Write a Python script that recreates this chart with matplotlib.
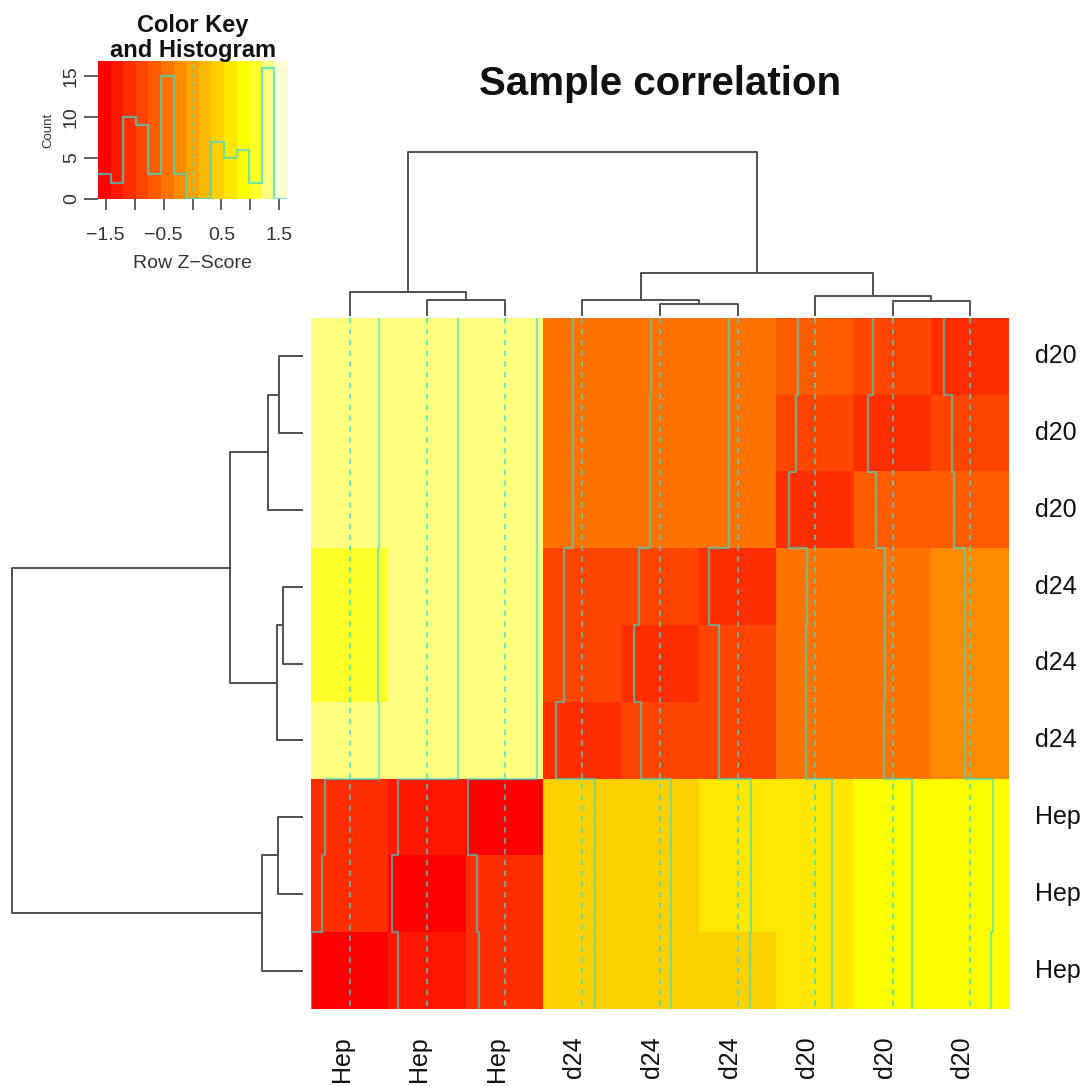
import numpy as np
import matplotlib
matplotlib.use("Agg")
import matplotlib.pyplot as plt
import matplotlib.transforms as mtransforms
from matplotlib.colors import ListedColormap, BoundaryNorm, hsv_to_rgb

plt.rcParams['font.family'] = ['Liberation Sans', 'DejaVu Sans']

# sample labels, rows top to bottom and columns left to right
row_labels = ["d20", "d20", "d20", "d24", "d24", "d24", "Hep", "Hep", "Hep"]
col_labels = ["Hep", "Hep", "Hep", "d24", "d24", "d24", "d20", "d20", "d20"]

# row z-scores of the sample matrix
zscores = np.array([
    [1.21, 1.29, 1.37, -0.40, -0.38, -0.37, -0.70, -0.82, -1.10],
    [1.21, 1.29, 1.37, -0.40, -0.40, -0.37, -0.82, -1.03, -0.77],
    [1.21, 1.29, 1.37, -0.40, -0.40, -0.38, -1.10, -0.69, -0.68],
    [1.18, 1.29, 1.37, -0.78, -0.89, -1.19, -0.34, -0.34, -0.22],
    [1.18, 1.29, 1.37, -0.77, -1.09, -0.77, -0.37, -0.34, -0.24],
    [1.21, 1.29, 1.37, -1.12, -0.78, -0.77, -0.37, -0.36, -0.24],
    [-1.05, -1.25, -1.53, 0.53, 0.47, 0.55, 0.70, 0.83, 0.94],
    [-1.15, -1.48, -1.19, 0.53, 0.47, 0.55, 0.70, 0.83, 0.94],
    [-1.63, -1.23, -1.10, 0.53, 0.47, 0.53, 0.70, 0.83, 0.87],
])

# dendrogram merges: (left, right, height); ids >= 9 refer to earlier merges
col_links = [
    (1, 2, 1.5),
    (0, 9, 2.3),
    (4, 5, 1.1),
    (3, 11, 1.5),
    (7, 8, 1.4),
    (6, 13, 1.9),
    (12, 14, 4.2),
    (10, 15, 16.3),
]
row_links = [
    (0, 1, 2.3),
    (9, 2, 3.4),
    (3, 4, 1.9),
    (11, 5, 2.5),
    (10, 12, 7.2),
    (6, 7, 2.4),
    (14, 8, 4.0),
    (13, 15, 29.0),
]

n_bins = 15
W, H = 1089, 1086
fig = plt.figure(figsize=(W / 100, H / 100), dpi=100)


def box(x0, y0, x1, y1):
    return [x0 / W, 1 - y1 / H, (x1 - x0) / W, (y1 - y0) / H]


def heat_colors(n):
    # same ramp as R's heat.colors()
    j = n // 4
    i = n - j
    cols = [hsv_to_rgb((h, 1, 1)) for h in np.linspace(0, 1 / 6, i)]
    cols += [hsv_to_rgb((1 / 6, s, 1)) for s in np.linspace(1 - 1 / (2 * j), 1 / (2 * j), j)]
    return cols


def dendro_segments(links, n):
    pos = {k: k + 0.5 for k in range(n)}
    hgt = {k: 0.0 for k in range(n)}
    segs = []
    for k, (a, b, h) in enumerate(links):
        segs.append(([pos[a], pos[a], pos[b], pos[b]], [hgt[a], h, h, hgt[b]]))
        pos[n + k] = (pos[a] + pos[b]) / 2
        hgt[n + k] = h
    return segs


lim = np.abs(zscores).max()
breaks = np.linspace(-lim, lim, n_bins + 1)
cmap = ListedColormap(heat_colors(n_bins))
norm = BoundaryNorm(breaks, n_bins)
trace_col = '#2fe0d8'
tree_col = '#505050'

# heatmap
ax = fig.add_axes(box(311, 318, 1009, 1009))
nr, nc = zscores.shape
ax.imshow(zscores, cmap=cmap, norm=norm, extent=(0, nc, nr, 0),
          aspect='auto', interpolation='nearest')
for j in range(nc):
    ax.plot([j + 0.5, j + 0.5], [0, nr], color=trace_col, lw=1.3,
            ls=(0, (3, 3)), alpha=0.75)
    frac = (zscores[:, j] + lim) / (2 * lim)
    xs = np.repeat(j + frac, 2)
    ys = np.repeat(np.arange(nr + 1), 2)[1:-1]
    ax.plot(xs, ys, color=trace_col, lw=1.6, alpha=0.6)
ax.set_xlim(0, nc)
ax.set_ylim(nr, 0)
ax.axis('off')

for i, lab in enumerate(row_labels):
    ax.text(1.037, i + 0.5, lab, transform=ax.get_yaxis_transform(),
            ha='left', va='center', fontsize=18, color='#111111')
shift = mtransforms.ScaledTranslation(-8 / 100, 0, fig.dpi_scale_trans)
for j, lab in enumerate(col_labels):
    ax.text(j + 0.5, -0.04, lab, transform=ax.get_xaxis_transform() + shift,
            ha='center', va='top', rotation=90, fontsize=18, color='#111111')

# column dendrogram
axc = fig.add_axes(box(311, 152, 1009, 315))
for xs, ys in dendro_segments(col_links, nc):
    axc.plot(xs, ys, color=tree_col, lw=1.4, clip_on=False)
axc.set_xlim(0, nc)
axc.set_ylim(0, col_links[-1][2])
axc.axis('off')

# row dendrogram
axr = fig.add_axes(box(12, 318, 302, 1009))
for ys, xs in dendro_segments(row_links, nr):
    axr.plot(xs, ys, color=tree_col, lw=1.4, clip_on=False)
axr.set_xlim(row_links[-1][2], 0)
axr.set_ylim(nr, 0)
axr.axis('off')

# colour key with histogram
counts, _ = np.histogram(zscores.ravel(), bins=breaks)
ytop = counts.max() / 0.95
axk = fig.add_axes(box(98, 61, 287, 199))
axk.imshow(np.arange(n_bins)[None, :], cmap=cmap, extent=(-lim, lim, 0, ytop),
           aspect='auto', interpolation='nearest')
axk.step(breaks, np.append(counts, counts[-1]), where='post',
         color=trace_col, lw=1.6, alpha=0.7)
axk.plot([0, 0], [0, ytop], color=trace_col, lw=1.3, ls=(0, (2, 2.5)), alpha=0.7)
axk.set_xlim(-lim, lim)
axk.set_ylim(0, ytop)
for s in axk.spines.values():
    s.set_visible(False)
xt = np.arange(-1.5, 1.51, 0.5)
axk.set_xticks(xt)
axk.set_xticklabels([f"{v:.1f}".replace('-', '\u2212') if k % 2 == 0 else ''
                     for k, v in enumerate(xt)])
axk.set_yticks([0, 5, 10, 15])
axk.set_yticklabels(['0', '5', '10', '15'], rotation=90, va='center')
axk.tick_params(axis='x', length=8, width=1.2, pad=12, labelsize=14,
                color='#444444', labelcolor='#333333')
axk.tick_params(axis='y', length=10, width=1.2, pad=3, labelsize=14,
                color='#444444', labelcolor='#333333')
axk.set_ylabel('Count', fontsize=9.5, color='#333333', labelpad=6)
axk.set_xlabel('Row Z\u2212Score', fontsize=14, color='#333333', labelpad=8)

fig.text(193 / W, 1 - 38 / H, 'Color Key\nand Histogram', ha='center', va='center',
         fontsize=17, fontweight='bold', linespacing=1.12, color='#111111')
fig.text(660 / W, 1 - 84 / H, 'Sample correlation', ha='center', va='center',
         fontsize=29, fontweight='bold', color='#111111')

fig.savefig('out.png', dpi=100)
